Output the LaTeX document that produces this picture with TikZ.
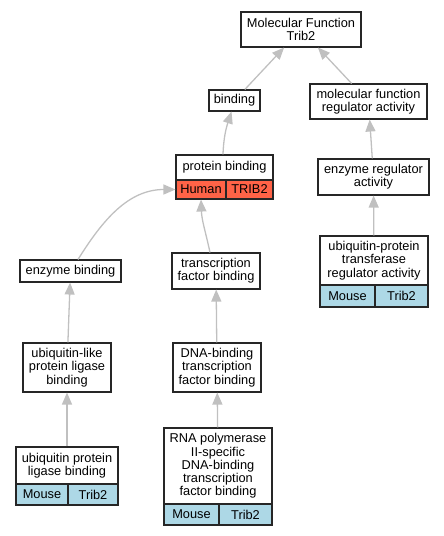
\documentclass[tikz,border=0pt]{standalone}
\usepackage{fontspec}
\setmainfont{Liberation Sans}
\usetikzlibrary{arrows.meta}
\definecolor{edgegray}{RGB}{192,192,192}
\definecolor{human}{RGB}{255,99,71}
\definecolor{mouse}{RGB}{173,216,230}
\begin{document}
\begin{tikzpicture}[x=1pt,y=1pt,
  box/.style={draw=black!85, line width=1.1pt, fill=white, inner sep=1pt, align=center,
    font=\fontsize{12.8}{13.2}\selectfont},
  cellh/.style={box, fill=human},
  cellm/.style={box, fill=mouse},
  edge/.style={draw=edgegray, line width=1.3pt, -{Triangle[length=12pt,width=10pt]}}]
\useasboundingbox (0,0) rectangle (444,-536);
% nodes
\node[box, minimum width=120, minimum height=35] (mf) at (301,-29.5) {Molecular Function\\Trib2};
\node[box, minimum width=51, minimum height=21] (bind) at (234.5,-100.5) {binding};
\node[box, minimum width=117, minimum height=35] (mfra) at (368.5,-101.5) {molecular function\\regulator activity};
\node[box, minimum width=97, minimum height=25] (pb) at (224.5,-167.5) {protein binding};
\node[cellh, minimum width=50, minimum height=19] (pbh) at (201,-189.5) {Human};
\node[cellh, minimum width=47, minimum height=19] (pbt) at (249.5,-189.5) {TRIB2};
\node[box, minimum width=111, minimum height=36] (era) at (373.5,-177) {enzyme regulator\\activity};
\node[box, minimum width=108, minimum height=49] (upt) at (374,-260.5) {ubiquitin-protein\\transferase\\regulator activity};
\node[cellm, minimum width=55, minimum height=22] (uptm) at (347.5,-296) {Mouse};
\node[cellm, minimum width=53, minimum height=22] (uptt) at (401.5,-296) {Trib2};
\node[box, minimum width=101, minimum height=22] (eb) at (70.5,-271) {enzyme binding};
\node[box, minimum width=88, minimum height=36] (tfb) at (216,-271) {transcription\\factor binding};
\node[box, minimum width=88, minimum height=49] (ulp) at (67,-367.5) {ubiquitin-like\\protein ligase\\binding};
\node[box, minimum width=88, minimum height=49] (dbt) at (217,-367.5) {DNA-binding\\transcription\\factor binding};
\node[box, minimum width=102, minimum height=37] (upl) at (67,-465.5) {ubiquitin protein\\ligase binding};
\node[cellm, minimum width=52, minimum height=21] (uplm) at (42,-494.5) {Mouse};
\node[cellm, minimum width=50, minimum height=21] (uplt) at (93,-494.5) {Trib2};
\node[box, minimum width=108, minimum height=76] (rna) at (218,-466) {RNA polymerase\\II-specific\\DNA-binding\\transcription\\factor binding};
\node[cellm, minimum width=55, minimum height=21] (rnam) at (191.5,-514.5) {Mouse};
\node[cellm, minimum width=53, minimum height=21] (rnat) at (245.5,-514.5) {Trib2};
% edges
\draw[edge] ([xshift=-1.5pt]pb.north) to[out=88,in=-108] ([xshift=-3pt]bind.south);
\draw[edge] (bind) -- (mf);
\draw[edge] (mfra) -- (mf);
\draw[edge] (era) -- (mfra);
\draw[edge] (upt) -- (era);
\draw[edge] ([xshift=7.5pt]eb.north) to[out=58,in=180] (pbh.west);
\draw[edge] ([xshift=-6pt]tfb.north) to[out=102,in=-88] (pbh.south);
\draw[edge] (ulp) -- (eb);
\draw[edge] (dbt) -- (tfb);
\draw[edge] (upl) -- (ulp);
\draw[edge] (rna) -- (dbt);
\end{tikzpicture}
\end{document}
